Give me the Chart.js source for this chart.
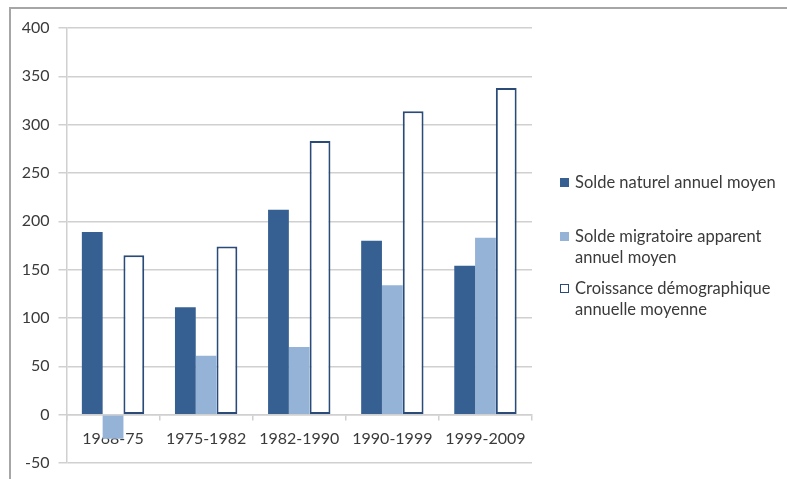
<!DOCTYPE html>
<html lang="fr">
<head>
<meta charset="utf-8">
<title>Croissance démographique annuelle moyenne</title>
<script src="https://cdn.jsdelivr.net/npm/chart.js@4/dist/chart.umd.min.js"></script>
<style>
  html, body { margin: 0; padding: 0; background: #ffffff; }
  #wrap { position: relative; width: 787px; height: 479px; overflow: hidden; font-family: Lato, "Open Sans", sans-serif; }
  #frame { position: absolute; left: 9px; top: 7px; width: 800px; height: 500px;
           border-top: 2px solid #a6a6a6; border-left: 2px solid #a6a6a6; box-sizing: border-box; }
  #chart { position: absolute; left: 0; top: 0; }
  #legend { position: absolute; left: 560px; top: 170px; width: 227px; color: #3a3a3a; font-size: 16.5px; line-height: 20.5px; white-space: nowrap; }
  .item { position: absolute; left: 0; display: flex; align-items: flex-start; }
  .swatch { width: 9px; height: 9px; margin-top: 6px; margin-right: 6px; box-sizing: border-box; flex: none; }
</style>
</head>
<body>
<div id="wrap">
  <div id="frame"></div>
  <canvas id="chart" width="787" height="479"></canvas>
  <div id="legend"></div>
</div>
<script>
// Périodes intercensitaires
const periods = ['1968-75', '1975-1982', '1982-1990', '1990-1999', '1999-2009'];

// Séries annuelles moyennes
const soldeNaturel = [189, 111, 212, 180, 154];
const soldeMigratoire = [-25, 61, 70, 134, 183];
const croissance = [165, 174, 283, 314, 338];

const seriesNames = [
  'Solde naturel annuel moyen',
  'Solde migratoire apparent annuel moyen',
  'Croissance démographique annuelle moyenne'
];

// Graduations de l'axe vertical
const yMin = -50;
const yMax = 400;
const yStep = 50;

const darkBlue = '#376092';
const lightBlue = '#95b3d7';
const navy = '#2a4b78';
const gridGrey = '#d0d0d0';
const textGrey = '#3a3a3a';

const datasets = [
  { label: seriesNames[0], data: soldeNaturel, backgroundColor: darkBlue, borderWidth: 0 },
  { label: seriesNames[1], data: soldeMigratoire, backgroundColor: lightBlue, borderWidth: 0 },
  { label: seriesNames[2], data: croissance, backgroundColor: '#ffffff', borderColor: navy,
    borderWidth: 2, borderSkipped: false }
];

new Chart(document.getElementById('chart'), {
  type: 'bar',
  data: { labels: periods, datasets },
  options: {
    responsive: false,
    animation: false,
    devicePixelRatio: 1,
    layout: { padding: { left: 10, top: 28, right: 255, bottom: 16 } },
    datasets: { bar: { categoryPercentage: 0.67, barPercentage: 1.0 } },
    plugins: { legend: { display: false }, tooltip: { enabled: false } },
    scales: {
      x: {
        position: { y: 0 },
        z: 1,
        afterFit: s => { s.height = 0; s.paddingTop = 0; s.paddingBottom = 0; },
        grid: { display: true, offset: true, drawOnChartArea: false, drawTicks: true,
                tickLength: 5, color: gridGrey, lineWidth: 1.5 },
        border: { display: true, color: gridGrey, width: 1.5 },
        ticks: { color: textGrey, padding: 9.5, maxRotation: 0, autoSkip: false,
                 font: { family: 'Lato', size: 16 } }
      },
      y: {
        min: yMin,
        max: yMax,
        afterFit: s => { s.width = 56.5; s.paddingTop = 0; s.paddingBottom = 0; },
        grid: { color: gridGrey, lineWidth: 1.5, drawTicks: true, tickLength: 8 },
        border: { display: true, color: gridGrey, width: 1.5 },
        ticks: { stepSize: yStep, color: textGrey, padding: 9,
                 font: { family: 'Lato', size: 16 } }
      }
    }
  }
});

// Légende à droite du graphique
const legendTops = [2, 56, 108];
const swatchStyles = [
  { background: darkBlue, border: 'none' },
  { background: lightBlue, border: 'none' },
  { background: '#ffffff', border: '1.5px solid ' + navy }
];
const legendWrap = document.getElementById('legend');
const legendLines = [
  ['Solde naturel annuel moyen'],
  ['Solde migratoire apparent', 'annuel moyen'],
  ['Croissance démographique', 'annuelle moyenne']
];
legendLines.forEach((lines, i) => {
  const item = document.createElement('div');
  item.className = 'item';
  item.style.top = legendTops[i] + 'px';
  const sw = document.createElement('div');
  sw.className = 'swatch';
  sw.style.background = swatchStyles[i].background;
  sw.style.border = swatchStyles[i].border;
  const txt = document.createElement('div');
  txt.innerHTML = lines.join('<br>');
  item.appendChild(sw);
  item.appendChild(txt);
  legendWrap.appendChild(item);
});
</script>
</body>
</html>
